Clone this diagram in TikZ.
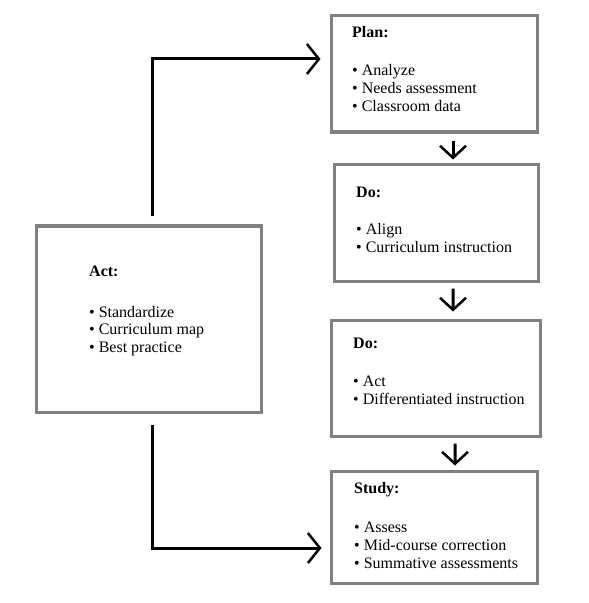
\documentclass[tikz,border=0pt]{standalone}
\usepackage{fontspec}
\setmainfont{Liberation Serif}
\usetikzlibrary{arrows.meta,calc}
\definecolor{boxgray}{HTML}{808080}
\tikzset{
  box/.style={draw=boxgray, line width=3bp, rectangle, inner sep=0pt, fill=white},
  txt/.style={anchor=base west, inner sep=0pt, font=\fontsize{16bp}{18bp}\selectfont},
  ttl/.style={txt, font=\fontsize{16bp}{18bp}\selectfont\bfseries},
  conn/.style={line width=3bp, black, -{Straight Barb[length=12bp,width=30bp,line width=2.5bp]}},
  dconn/.style={line width=3bp, black, -{Straight Barb[length=12bp,width=26bp,line width=2.5bp]}}
}
\begin{document}
\begin{tikzpicture}[x=1bp,y=-1bp]
\useasboundingbox[fill=white] (0,0) rectangle (589,603);
% boxes
\node[box, minimum width=206bp, minimum height=116bp] (plan) at (434,74) {};
\node[box, minimum width=204bp, minimum height=116bp] (do1) at (436,223) {};
\node[box, minimum width=209bp, minimum height=116bp] (do2) at (435.5,378) {};
\node[box, minimum width=206bp, minimum height=112bp] (study) at (434,527) {};
\node[box, minimum width=224bp, minimum height=186bp] (act) at (149,319) {};
% texts
\node[ttl] (tplan) at (352,37.7) {Plan:};
\node[txt] (p1) at (352,76) {• Analyze};
\node[txt] (p2) at (352,94) {• Needs assessment};
\node[txt] (p3) at (352,111.7) {• Classroom data};
\node[ttl] (tdo1) at (356,197) {Do:};
\node[txt] (d11) at (356,234) {• Align};
\node[txt] (d12) at (356,252) {• Curriculum instruction};
\node[ttl] (tdo2) at (353,348) {Do:};
\node[txt] (d21) at (353,386) {• Act};
\node[txt] (d22) at (353,404) {• Differentiated instruction};
\node[ttl] (tstudy) at (354,493) {Study:};
\node[txt] (s1) at (354,532) {• Assess};
\node[txt] (s2) at (354,550) {• Mid-course correction};
\node[txt] (s3) at (354,568) {• Summative assessments};
\node[ttl] (tact) at (89,276) {Act:};
\node[txt] (a1) at (89,317) {• Standardize};
\node[txt] (a2) at (89,334.5) {• Curriculum map};
\node[txt] (a3) at (89,352) {• Best practice};
% connectors
\draw[conn] ($(act.north)+(3,-8)$) |- ($(plan.west)+(-9,-15)$);
\draw[conn] ($(act.south)+(3,11)$) |- ($(study.west)+(-8,21)$);
\draw[dconn] ($(plan.south)+(19,7)$) -- ($(do1.north)+(17,-4)$);
\draw[dconn] ($(do1.south)+(17,6)$) -- ($(do2.north)+(17.5,-7)$);
\draw[dconn] ($(do2.south)+(19.5,6)$) -- ($(study.north)+(21,-4)$);
\end{tikzpicture}
\end{document}
